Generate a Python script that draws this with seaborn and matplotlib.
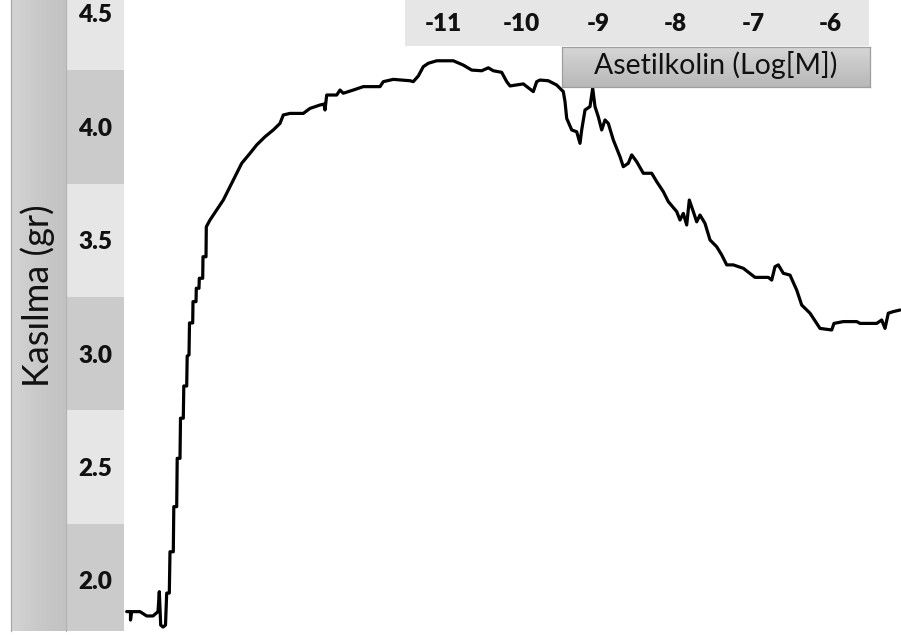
import matplotlib
matplotlib.use("Agg")
import matplotlib.pyplot as plt
import numpy as np
import pandas as pd
import seaborn as sns
from matplotlib.colors import LinearSegmentedColormap

# Contraction trace: time (s) and force (gr)
time_s = [
    2.7, 6.5, 6.5, 7.5, 16, 22.7, 29, 34, 35.3, 36.7, 39, 41.5, 42.7, 45.3,
    46, 49.3, 49.8, 52.7, 53.2, 56, 56.5, 59.3, 59.8, 62.7, 63.2, 65, 65.5,
    68.7, 69, 72, 72.3, 75, 75.3, 78.7, 79, 82, 82.3, 86, 92.7, 99.3, 106,
    111, 117.7, 126, 132.7, 141, 149.3, 156, 159.3, 166, 179.3, 186, 196,
    200, 201, 202.7, 212.7, 216, 219.3, 229.3, 239.3, 256, 259.3, 269.3, 286,
    289.3, 294.3, 299.3, 304.3, 312.7, 329.3, 339.3, 347.7, 357.7, 364.3,
    369.3, 377.7, 382.7, 386, 399.3, 409.3, 412.7, 416, 424.3, 432.7, 439.3,
    441, 442.7, 447.7, 452.7, 456, 457.7, 461, 466, 468.7, 471, 474.3, 477.7,
    481, 484.3, 489.3, 496, 499.3, 504.3, 507.7, 512.7, 519.3, 527.7, 532.7,
    539.3, 544.3, 552.7, 556, 559.3, 562.7, 565.3, 569.3, 572.7, 576, 581,
    586, 592.7, 597.7, 602.7, 609.3, 619.3, 631, 644.3, 647.7, 651, 654.3,
    659.3, 666, 672.7, 677.7, 686, 696, 707.7, 710, 719.3, 732.7, 736, 752.7,
    757.7, 761, 764.3, 769.3, 776,
]
force_gr = [
    1.863, 1.863, 1.826, 1.863, 1.863, 1.844, 1.844, 1.863, 1.951, 1.804,
    1.795, 1.804, 1.945, 1.945, 2.127, 2.127, 2.326, 2.326, 2.539, 2.539,
    2.716, 2.716, 2.858, 2.858, 2.990, 2.995, 3.136, 3.136, 3.230, 3.230,
    3.289, 3.289, 3.333, 3.333, 3.428, 3.428, 3.560, 3.590, 3.634, 3.678,
    3.737, 3.781, 3.840, 3.884, 3.921, 3.957, 3.987, 4.016, 4.053, 4.060,
    4.060, 4.082, 4.097, 4.101, 4.075, 4.141, 4.141, 4.163, 4.149, 4.163,
    4.178, 4.178, 4.200, 4.210, 4.204, 4.200, 4.225, 4.266, 4.281, 4.292,
    4.292, 4.273, 4.251, 4.248, 4.261, 4.248, 4.241, 4.200, 4.181, 4.190,
    4.156, 4.200, 4.207, 4.204, 4.185, 4.156, 4.112, 4.038, 3.987, 3.979,
    3.928, 3.987, 4.075, 4.090, 4.171, 4.090, 4.045, 3.987, 4.031, 4.016,
    3.943, 3.869, 3.825, 3.840, 3.877, 3.847, 3.796, 3.796, 3.759, 3.715,
    3.671, 3.627, 3.590, 3.619, 3.568, 3.678, 3.627, 3.582, 3.612, 3.575,
    3.502, 3.472, 3.436, 3.392, 3.392, 3.377, 3.337, 3.337, 3.325, 3.384,
    3.392, 3.355, 3.347, 3.281, 3.215, 3.179, 3.112, 3.105, 3.134, 3.142,
    3.142, 3.134, 3.134, 3.149, 3.112, 3.179, 3.186, 3.193,
]
y_ticks = [4.5, 4.0, 3.5, 3.0, 2.5, 2.0]
doses_log_m = [-11, -10, -9, -8, -7, -6]
y_title = "Kasılma (gr)"
dose_title = "Asetilkolin (Log[M])"

sns.set_theme(style="white")
plt.rcParams["font.family"] = ["Lato", "DejaVu Sans"]

W, H = 901, 636
fig = plt.figure(figsize=(W / 100, H / 100), dpi=100)
fig.patch.set_facecolor("white")


def box(x0, y0, x1, y1):
    """Axes placed by a pixel box measured from the top-left corner."""
    return fig.add_axes([x0 / W, 1 - y1 / H, (x1 - x0) / W, (y1 - y0) / H])


y_lo, y_hi = 1.779, 4.56
bottom = 630.7

# trace
ax = box(124, 0, 901, bottom)
df = pd.DataFrame({"t": time_s, "f": force_gr})
sns.lineplot(data=df, x="t", y="f", ax=ax, color="black", linewidth=2.3,
             estimator=None, sort=False)
ax.set_xlim(0, 777)
ax.set_ylim(y_lo, y_hi)
ax.axis("off")

# banded value column
axy = box(66, 0, 124, bottom)
axy.set_ylim(y_lo, y_hi)
axy.set_xlim(0, 1)
for i, v in enumerate(y_ticks):
    axy.axhspan(v - 0.25, v + 0.25, color="#e6e6e6" if i % 2 == 0 else "#cbcbcb", lw=0)
    axy.text(0.5, v - 0.008, f"{v:.1f}", ha="center", va="center",
             fontsize=17.5, fontweight="heavy", color="#111111")
axy.set_xticks([]); axy.set_yticks([])
for s in axy.spines.values():
    s.set_visible(False)

# title strip on the left
axl = box(11, 0, 66, bottom)
grad = LinearSegmentedColormap.from_list("band", ["#d4d4d4", "#c9c9c9", "#c2c2c2"])
axl.imshow(np.linspace(0, 1, 256)[None, :], cmap=grad, aspect="auto",
           extent=(0, 1, 0, 1))
axl.set_xlim(0, 1); axl.set_ylim(0, 1)
axl.set_xticks([]); axl.set_yticks([])
for k, s in axl.spines.items():
    s.set_visible(k in ("left", "right"))
    s.set_color("#a8a8a8" if k == "left" else "#b3b3b3")
    s.set_linewidth(0.9)
axl.text(0.49, 1 - 296 / bottom, y_title, rotation=90, ha="center", va="center",
         fontsize=26, color="#111111")

# dose strip along the top
axt = box(405, 0, 869, 46)
axt.set_facecolor("#e6e6e6")
axt.set_xlim(-11.5, -5.5)
axt.set_ylim(0, 1)
for d in doses_log_m:
    axt.text(d, 0.47, str(d), ha="center", va="center", fontsize=17.5,
             fontweight="heavy", color="#111111")
axt.set_xticks([]); axt.set_yticks([])
for s in axt.spines.values():
    s.set_visible(False)

# dose title box with a vertical shade
axb = box(561.5, 46.5, 869.5, 87.3)
shade = LinearSegmentedColormap.from_list("shade", ["#d6d6d6", "#b8b8b8"])
axb.imshow(np.linspace(0, 1, 64)[:, None], cmap=shade, aspect="auto",
           extent=(0, 1, 0, 1))
axb.set_xlim(0, 1); axb.set_ylim(0, 1)
axb.set_xticks([]); axb.set_yticks([])
for s in axb.spines.values():
    s.set_color("#9e9e9e")
    s.set_linewidth(0.9)
axb.text(0.5, 0.55, dose_title, ha="center", va="center", fontsize=20.5,
         color="#111111")

fig.savefig("out.png", dpi=100, facecolor="white")
